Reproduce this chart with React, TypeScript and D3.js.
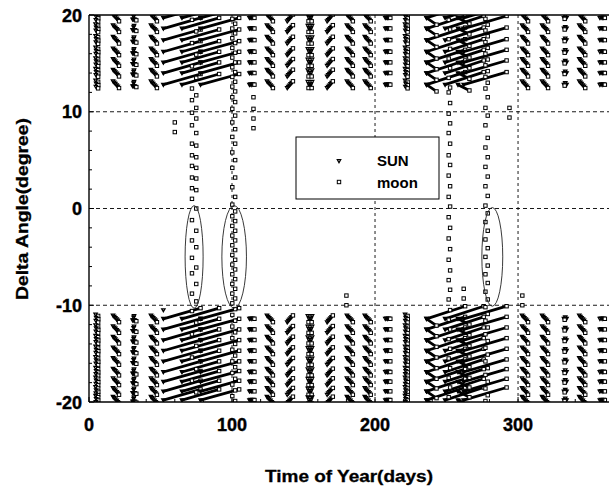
import React from 'react';
import * as d3 from 'd3';

const W = 609;
const H = 488;

const xTicks = [0, 100, 200, 300];
const yTicks = [-20, -10, 0, 10, 20];
const gridX = [100, 200, 300];
const gridY = [-10, 0, 10];

// marker columns outside the dense periods
const columnDays = [5.6, 19, 31.5, 45.5, 114, 126.6, 140.6, 154.5, 168.5, 182.5, 195, 209, 222, 305, 319, 333, 345, 359];
const columnShapes = ['vert', 'down', 'tri', 'down', 'flat', 'down', 'up', 'vee', 'up', 'down', 'down', 'flat', 'vert', 'down', 'down', 'blob', 'down', 'flat'];
const topRows = [19.7, 18.6, 17.4, 16.2, 15.1, 14.0, 12.8];
const bottomRows = [-11.4, -12.5, -13.6, -14.7, -15.8, -16.9, -17.9, -18.9, -19.8];

// cluster shapes: [dayOffset, angleOffset, series]
const clusterShapes: Record<string, [number, number, string][]> = {
  down: [[-2.2, 0.35, 's'], [-1.4, 0.22, 's'], [-0.6, 0.1, 's'], [0.3, -0.05, 's'], [1.1, -0.18, 's'], [2.0, -0.35, 'm']],
  up: [[-2.0, -0.35, 's'], [-1.2, -0.2, 's'], [-0.4, -0.07, 's'], [0.4, 0.07, 's'], [1.2, 0.2, 's'], [2.0, 0.35, 'm']],
  flat: [[-1.8, 0, 's'], [-1.0, 0.05, 's'], [-0.2, 0, 's'], [0.6, 0.05, 's'], [1.7, 0, 'm']],
  tri: [[-1.0, -0.15, 's'], [-0.3, -0.15, 's'], [0.4, -0.15, 's'], [-0.3, 0.15, 's'], [0, 0.3, 's'], [1.6, -0.25, 'm']],
  blob: [[-0.9, 0, 's'], [0, 0, 's'], [0.9, 0, 's'], [0, 0.18, 's'], [-0.4, -0.1, 'm']],
  vee: [[-1.5, 0.3, 's'], [-0.7, 0.05, 's'], [0, -0.2, 's'], [0.7, 0.05, 's'], [1.5, 0.3, 's'], [-1.0, -0.35, 'm'], [1.2, -0.35, 'm']],
  vert: [[-1.0, 0.45, 's'], [0.8, 0.3, 'm'], [-0.6, 0.12, 's'], [0.9, -0.05, 'm'], [-0.8, -0.2, 's'], [0.8, -0.38, 'm']],
};

// dense periods: diagonal streaks starting at each band row
const streaks = [
  { from: 52, to: 78, rise: 1.1 },
  { from: 65, to: 91, rise: 1.1 },
  { from: 78, to: 105, rise: 1.1 },
  { from: 236, to: 263, rise: 1.3 },
  { from: 249, to: 276, rise: 1.3 },
  { from: 262, to: 292, rise: 1.3 },
  { from: 236, to: 243, rise: -0.7 },
  { from: 258, to: 266, rise: -0.6 },
];

// moon crossing columns
const moonColumns = [
  { day: 73.5, spread: 1.5, angles: [19.5, 18.3, 17.1, 15.9, 14.7, 13.5, 12.4, 11.7, 11.2, 10.4, 9.9, 9.3, 8.6, 7.8, 6.7, 6.5, 5.5, 5.3, 4.4, 4.2, 3.2, 3.1, 2.1, 1.9, 1.0, 0, -1.2, -2.3, -3.3, -4.0, -5.1, -6.1, -6.7, -7.8, -8.8, -9.6, -10.6, -11.8, -13.0, -14.2, -15.4, -16.6, -17.8, -19.0] },
  { day: 101.2, spread: 1.0, angles: [19.6, 19.1, 18.6, 18.1, 17.6, 17.1, 16.6, 16.1, 15.6, 15.1, 14.6, 14.1, 13.6, 13.1, 12.6, 12.1, 11.5, 11.0, 10.3, 9.6, 8.9, 8.2, 7.4, 6.7, 5.8, 5.0, 4.2, 3.2, 2.2, 1.2, 0.4, -0.3, -0.8, -1.3, -1.8, -2.3, -2.8, -3.3, -3.8, -4.3, -4.8, -5.3, -5.8, -6.3, -6.8, -7.3, -7.8, -8.3, -8.8, -9.3, -9.8, -10.4, -11.0, -11.6, -12.2, -12.8, -13.4, -14.0, -14.6, -15.2, -15.8, -16.4, -17.0, -17.6, -18.2, -18.8, -19.4, -19.9] },
  { day: 252, spread: 0.5, angles: [19.5, 18.5, 17.5, 16.5, 15.5, 14.5, 13.5, 12.5, 12.0, 10.9, 9.8, 8.8, 7.8, 6.7, 5.5, 4.5, 3.4, 2.3, 1.2, 0.2, -0.9, -2.0, -3.1, -4.2, -5.3, -6.4, -7.4, -8.4, -9.4, -10.5, -11.5, -12.5, -13.5, -14.5, -15.5, -16.5, -17.5, -18.5, -19.5] },
  { day: 278, spread: 0.8, angles: [19.6, 19.0, 18.4, 17.8, 17.2, 16.6, 16.0, 15.4, 14.8, 14.2, 13.6, 13.0, 12.4, 11.5, 10.4, 9.6, 8.6, 7.3, 6.3, 5.3, 4.3, 3.3, 2.3, 1.3, 0.3, -0.5, -1.4, -2.3, -3.2, -4.1, -5.0, -5.9, -6.8, -7.7, -8.6, -9.4, -10.2, -10.9, -11.6, -12.3, -13.0, -13.7, -14.4, -15.1, -15.8, -16.5, -17.2, -17.9, -18.6, -19.3, -19.9] },
];

// isolated points [day, angle]
const moonStrays: [number, number][] = [
  [60, 8.9], [60, 7.9], [115, 11.5], [115, 10.3], [115, 9.3], [115, 8.3],
  [180, -9.0], [180, -10.0], [262, -8.3], [262, -9.3], [294, 10.4], [294, 9.4],
  [303, -9.0], [303, -10.0],
];
const sunStrays: [number, number][] = [[52, -10.5]];

// highlighted regions (ellipses)
const ellipses = [
  { day: 73.5, angle: -5, rDay: 6.3, rAngle: 5.3 },
  { day: 101.5, angle: -5, rDay: 8.6, rAngle: 5.3 },
  { day: 282, angle: -5, rDay: 7.3, rAngle: 5.1 },
];

const legendItems = ['SUN', 'moon'];

const FONT = 'Liberation Sans, Arial, Helvetica, sans-serif';

function Sun({ cx, cy }: { cx: number; cy: number }) {
  return <path d={`M${cx - 1.7},${cy - 1.3}L${cx + 1.7},${cy - 1.3}L${cx},${cy + 1.7}Z`} fill="none" stroke="#000" strokeWidth={1.25} />;
}
function Moon({ cx, cy }: { cx: number; cy: number }) {
  return <rect x={cx - 1.7} y={cy - 1.7} width={3.4} height={3.4} fill="#fff" stroke="#000" strokeWidth={1} />;
}

export default function App() {
  const x = d3.scaleLinear().domain([0, 365]).range([89, 611]);
  const y = d3.scaleLinear().domain([-20, 20]).range([402, 15]);
  const rows = [...topRows, ...bottomRows];
  const line = d3.line<[number, number]>().x((d) => x(d[0])).y((d) => y(d[1]));

  const marks: JSX.Element[] = [];
  let k = 0;
  columnDays.forEach((day, ci) => {
    const shape = clusterShapes[columnShapes[ci]];
    rows.forEach((r) => {
      shape.forEach(([dd, da, s]) => {
        const cx = x(day + dd);
        const cy = y(r + da);
        marks.push(s === 's' ? <Sun key={k++} cx={cx} cy={cy} /> : <Moon key={k++} cx={cx} cy={cy} />);
      });
    });
  });

  const streakEls: JSX.Element[] = [];
  streaks.forEach((st) => {
    rows.forEach((r) => {
      const p: [number, number][] = [[st.from, r], [st.to, r + st.rise]];
      streakEls.push(<path key={k++} d={line(p) || ''} stroke="#000" strokeWidth={2.8} strokeLinecap="round" fill="none" />);
      streakEls.push(<Sun key={k++} cx={x(st.from)} cy={y(r)} />);
      streakEls.push(<Moon key={k++} cx={x(st.to)} cy={y(r + st.rise)} />);
    });
  });

  const colEls: JSX.Element[] = [];
  moonColumns.forEach((c) => {
    c.angles.forEach((a, i) => {
      const d = c.day + (i % 2 === 0 ? -c.spread : c.spread);
      colEls.push(<Moon key={k++} cx={x(d)} cy={y(a)} />);
    });
  });
  moonStrays.forEach(([d, a]) => colEls.push(<Moon key={k++} cx={x(d)} cy={y(a)} />));
  sunStrays.forEach(([d, a]) => colEls.push(<Sun key={k++} cx={x(d)} cy={y(a)} />));

  const minorY = d3.range(-20, 21, 2);
  const minorX = d3.range(0, 361, 20);

  return (
    <svg width={W} height={H} style={{ position: 'absolute', left: 0, top: 0, background: '#fff' }} fontFamily={FONT}>
      <defs>
        <clipPath id="plot">
          <rect x={89} y={15} width={W - 89} height={387} />
        </clipPath>
      </defs>
      <rect x={0} y={0} width={W} height={H} fill="#fff" />
      {gridY.map((g) => (
        <line key={'gy' + g} x1={x(0)} x2={W} y1={y(g)} y2={y(g)} stroke="#000" strokeWidth={0.9} strokeDasharray="4,3" />
      ))}
      {gridX.map((g) => (
        <line key={'gx' + g} x1={x(g)} x2={x(g)} y1={y(20)} y2={y(-20)} stroke="#000" strokeWidth={0.9} strokeDasharray="3,3" />
      ))}
      <g clipPath="url(#plot)">
        {streakEls}
        {marks}
        {colEls}
        {ellipses.map((e, i) => (
          <ellipse key={'e' + i} cx={x(e.day)} cy={y(e.angle)} rx={x(e.day + e.rDay) - x(e.day)} ry={y(e.angle) - y(e.angle + e.rAngle)} fill="none" stroke="#222" strokeWidth={0.9} />
        ))}
      </g>
      <line x1={x(0)} x2={x(0)} y1={y(20)} y2={y(-20)} stroke="#000" strokeWidth={1.4} />
      <line x1={x(0)} x2={W} y1={y(20)} y2={y(20)} stroke="#000" strokeWidth={1.4} />
      <line x1={x(0)} x2={W} y1={y(-20)} y2={y(-20)} stroke="#000" strokeWidth={1.4} />
      {minorY.map((t) => (
        <line key={'my' + t} x1={x(0)} x2={x(0) + (t % 10 === 0 ? 5 : 3)} y1={y(t)} y2={y(t)} stroke="#000" strokeWidth={1} />
      ))}
      {minorX.map((t) => (
        <line key={'mx' + t} x1={x(t)} x2={x(t)} y1={y(-20)} y2={y(-20) - (t % 100 === 0 ? 5 : 3)} stroke="#000" strokeWidth={1} />
      ))}
      {yTicks.map((t) => (
        <text key={'yt' + t} x={82} y={y(t) + 6.5} textAnchor="end" fontSize={18} fontWeight="bold" stroke="#000" strokeWidth={0.4}>{t}</text>
      ))}
      {xTicks.map((t) => (
        <text key={'xt' + t} x={x(t)} y={431} textAnchor="middle" fontSize={18} fontWeight="bold" stroke="#000" strokeWidth={0.4}>{t}</text>
      ))}
      <text x={349} y={482} textAnchor="middle" fontSize={17} fontWeight="bold" textLength={168} lengthAdjust="spacingAndGlyphs" stroke="#000" strokeWidth={0.3}>Time of Year(days)</text>
      <text transform={`translate(28,${209}) rotate(-90)`} textAnchor="middle" fontSize={17} fontWeight="bold" textLength={182} lengthAdjust="spacingAndGlyphs" stroke="#000" strokeWidth={0.3}>Delta Angle(degree)</text>
      <rect x={296} y={137} width={143} height={62} fill="#fff" stroke="#000" strokeWidth={1} />
      <Sun cx={339} cy={161} />
      <Moon cx={339} cy={182} />
      {legendItems.map((t, i) => (
        <text key={t} x={377} y={166 + i * 22} fontSize={15} fontWeight="bold">{t}</text>
      ))}
    </svg>
  );
}
